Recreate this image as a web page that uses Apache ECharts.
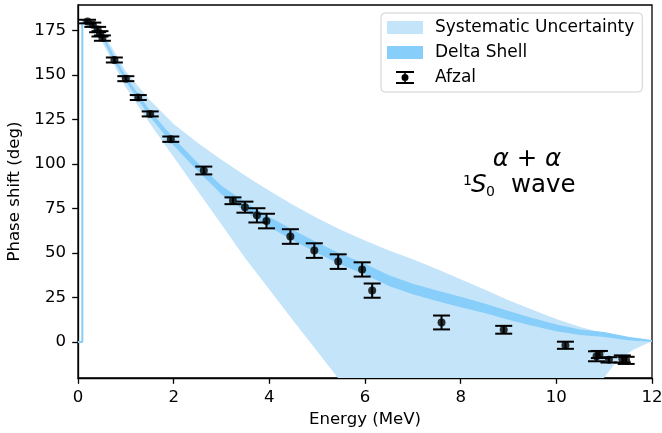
<!DOCTYPE html>
<html>
<head>
<meta charset="utf-8">
<script src="https://cdn.jsdelivr.net/npm/echarts@6/dist/echarts.min.js"></script>
<style>
  html, body { margin: 0; padding: 0; background: #fff; }
  #chart { width: 662px; height: 433px; }
</style>
</head>
<body>
<div id="chart"></div>
<script>
// Afzal data points (energy in MeV, phase in deg, half error bar)
const energy = [0.2, 0.31, 0.41, 0.46, 0.51, 0.76, 1.0, 1.26, 1.51, 1.94, 2.63, 3.24, 3.49, 3.74, 3.94, 4.44, 4.94, 5.44, 5.94, 6.15, 7.6, 8.9, 10.19, 10.84, 10.9, 11.1, 11.38, 11.46];
const phase = [180.1, 178.3, 175.6, 173.2, 170.8, 158.5, 148, 137.4, 128.2, 114, 96.4, 79.4, 75.8, 71.2, 68, 59.3, 51.4, 45.2, 40.8, 28.9, 11, 6.9, -1.8, -8, -7, -10, -9.5, -10.3];
const phaseErr = [1, 1.2, 1.5, 1.5, 1.5, 1.4, 1.4, 1.4, 1.4, 1.5, 2.2, 1.9, 3.1, 4, 4.1, 4.1, 4.1, 4.1, 4, 4, 3.9, 2.2, 2, 2.8, 2, 1.5, 2, 2];

// delta shell band
const shellE = [0.09, 0.3, 0.5, 0.75, 1.0, 1.25, 1.5, 2.0, 2.5, 3.0, 3.5, 4.0, 4.5, 5.0, 5.5, 6.0, 6.5, 7.0, 7.5, 8.0, 8.5, 9.0, 9.5, 10.0, 10.5, 11.0, 11.5, 12.0];
const shellHigh = [180.8, 179.5, 173.7, 160.9, 149.5, 139.6, 130.2, 114.5, 100.7, 87.9, 78.6, 70.3, 63, 56, 49.5, 44, 37.5, 32.8, 29, 25.4, 21.7, 17.4, 13.5, 9.9, 7.1, 5.6, 3, 1.1];
const shellLow = [179.2, 177.5, 171.3, 158.1, 146.5, 136.4, 126.8, 110.5, 96.3, 83.1, 73.4, 64.7, 57, 50, 43.5, 38, 31.5, 26.8, 23, 19.6, 16.3, 12.6, 9.1, 6.1, 3.9, 2.8, 1, 0.1];

// systematic uncertainty band
const sysE = [0.09, 0.3, 0.5, 0.75, 1.0, 1.5, 2.0, 2.5, 3.0, 3.5, 4.0, 4.5, 5.0, 5.5, 6.0, 6.5, 7.0, 7.5, 8.0, 8.5, 9.0, 9.5, 10.0, 10.5, 10.8, 11.0, 11.25, 11.6, 12.0];
const sysHigh = [181, 180.5, 175, 163.5, 152, 136, 122.5, 112, 102.5, 93.5, 85, 77, 69.7, 63, 57, 51.5, 46.5, 41, 35.3, 29.5, 23.5, 18.2, 13, 8.5, 6.3, 4.9, 3.5, 1.8, 0.6];
const sysLow = [179, 176.5, 169, 156, 143, 123, 104, 85, 66, 47, 29.5, 12, -5.2, -22.5, -38, -50, -60, -68, -75, -79, -80, -78, -70, -45, -30, -20, -11, -4.4, 0.4];

// low-energy jump of the delta shell curve
const jumpE = [0, 0.09, 0.09];
const jumpPhase = [0, 0, 180];

const xTicks = [0, 2, 4, 6, 8, 10, 12];
const yTicks = [0, 25, 50, 75, 100, 125, 150, 175];

const font = 'DejaVu Sans';
const chart = echarts.init(document.getElementById('chart'));

function band(xs, lo, hi, color) {
  return function (params, api) {
    const pts = [];
    for (let i = 0; i < xs.length; i++) pts.push(api.coord([xs[i], hi[i]]));
    for (let i = xs.length - 1; i >= 0; i--) pts.push(api.coord([xs[i], lo[i]]));
    return { type: 'polygon', shape: { points: pts }, style: { fill: color } };
  };
}

function errorBar(params, api) {
  const x = api.value(0), y = api.value(1), e = api.value(2);
  const top = api.coord([x, y + e]);
  const bot = api.coord([x, y - e]);
  const hw = 8.5;
  const st = { stroke: '#000', lineWidth: 2 };
  return {
    type: 'group',
    children: [
      { type: 'line', shape: { x1: top[0], y1: top[1], x2: bot[0], y2: bot[1] }, style: st },
      { type: 'line', shape: { x1: top[0] - hw, y1: top[1], x2: top[0] + hw, y2: top[1] }, style: st },
      { type: 'line', shape: { x1: bot[0] - hw, y1: bot[1], x2: bot[0] + hw, y2: bot[1] }, style: st }
    ]
  };
}

const errIcon = 'path://M0,0H18V2H0Z M8.2,2H9.8V11H8.2Z M0,11H18V13H0Z M5.5,6.5A3.5,3.5 0 1 1 12.5,6.5A3.5,3.5 0 1 1 5.5,6.5Z';

const option = {
  animation: false,
  textStyle: { fontFamily: font },
  grid: {
    left: 78, right: 10, top: 5, bottom: 55,
    outerBoundsMode: 'none',
    show: true, borderColor: '#000', borderWidth: 1.3, backgroundColor: 'transparent'
  },
  legend: {
    left: 381, top: 13,
    orient: 'vertical',
    itemWidth: 36, itemHeight: 13, itemGap: 8,
    padding: [6, 8, 6, 6],
    borderColor: '#d0d0d0', borderWidth: 1, borderRadius: 4,
    backgroundColor: 'rgba(255,255,255,0.8)',
    textStyle: { fontFamily: font, fontSize: 17, color: '#000', padding: [0, 0, 0, 7] },
    data: [
      { name: 'Systematic Uncertainty', icon: 'rect' },
      { name: 'Delta Shell', icon: 'rect' },
      { name: 'Afzal', icon: errIcon }
    ],
    selectedMode: false
  },
  xAxis: {
    type: 'value', min: 0, max: 12, interval: 2,
    name: 'Energy (MeV)', nameLocation: 'middle', nameGap: 31,
    nameTextStyle: { fontFamily: font, fontSize: 16.6, color: '#000' },
    axisLine: { show: true, onZero: false, lineStyle: { color: '#000', width: 1.3 } },
    axisTick: { show: true, length: 5.8, lineStyle: { color: '#000', width: 1.3 } },
    axisLabel: { fontFamily: font, fontSize: 16.6, color: '#000', margin: 11,
      formatter: v => xTicks.indexOf(v) >= 0 ? String(v) : '' },
    splitLine: { show: false }
  },
  yAxis: {
    type: 'value', min: -20.2, max: 189.4,
    name: 'Phase shift (deg)', nameLocation: 'middle', nameGap: 50,
    nameTextStyle: { fontFamily: font, fontSize: 16.6, color: '#000' },
    axisLine: { show: true, onZero: false, lineStyle: { color: '#000', width: 1.3 } },
    axisTick: { show: true, length: 5.8, customValues: yTicks, lineStyle: { color: '#000', width: 1.3 } },
    axisLabel: { fontFamily: font, fontSize: 16.6, color: '#000', margin: 12, customValues: yTicks },
    splitLine: { show: false }
  },
  series: [
    {
      name: 'Systematic Uncertainty', type: 'custom', clip: true, z: 1,
      itemStyle: { color: '#c4e4fa' },
      renderItem: band(sysE, sysLow, sysHigh, '#c4e4fa'),
      data: [[0, 0]]
    },
    {
      name: 'Delta Shell', type: 'custom', clip: true, z: 2,
      itemStyle: { color: '#87cefa' },
      renderItem: band(shellE, shellLow, shellHigh, '#87cefa'),
      data: [[0, 0]]
    },
    {
      type: 'line', z: 3, symbol: 'none', silent: true,
      lineStyle: { color: '#87cefa', width: 2 },
      data: jumpE.map((e, i) => [e, jumpPhase[i]])
    },
    {
      name: 'Afzal', type: 'custom', z: 4,
      itemStyle: { color: '#000' },
      renderItem: errorBar,
      data: energy.map((e, i) => [e, phase[i], phaseErr[i]])
    },
    {
      name: 'Afzal', type: 'scatter', z: 5,
      symbol: 'circle', symbolSize: 8,
      itemStyle: { color: '#000' },
      data: energy.map((e, i) => [e, phase[i]])
    }
  ],
  graphic: [
    { type: 'text', z: 10, style: { text: '{i|α} + {i|α}', x: 527, y: 160, align: 'center', verticalAlign: 'middle',
      font: '24.5px "DejaVu Sans"', fill: '#000',
      rich: { i: { fontStyle: 'italic', fontFamily: font, fontSize: 24.5 } } } },
    { type: 'text', z: 10, style: { text: '1', x: 463, y: 181, verticalAlign: 'middle', font: '14px "DejaVu Sans"', fill: '#000' } },
    { type: 'text', z: 10, style: { text: 'S', x: 471, y: 186, verticalAlign: 'middle', font: 'italic 24.5px "DejaVu Sans"', fill: '#000' } },
    { type: 'text', z: 10, style: { text: '0', x: 486, y: 192, verticalAlign: 'middle', font: '14px "DejaVu Sans"', fill: '#000' } },
    { type: 'text', z: 10, style: { text: 'wave', x: 511, y: 186, verticalAlign: 'middle', font: '24.5px "DejaVu Sans"', fill: '#000' } }
  ]
};

chart.setOption(option);
</script>
</body>
</html>
